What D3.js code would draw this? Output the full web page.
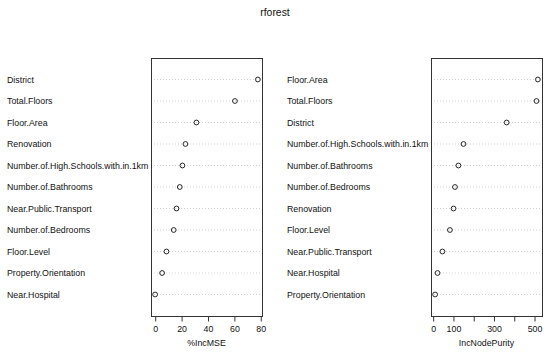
<!DOCTYPE html>
<html>
<head>
<meta charset="utf-8">
<script src="https://cdn.jsdelivr.net/npm/d3@7"></script>
<style>
  html, body { margin: 0; padding: 0; background: #fff; }
  text { font-family: "Liberation Sans", Arial, Helvetica, sans-serif; fill: #111; }
</style>
</head>
<body>
<div id="rootDiv"></div>
<script>
const width = 550
const height = 352

const title = "rforest"

const mseLabels = ["District", "Total.Floors", "Floor.Area", "Renovation",
    "Number.of.High.Schools.with.in.1km", "Number.of.Bathrooms", "Near.Public.Transport",
    "Number.of.Bedrooms", "Floor.Level", "Property.Orientation", "Near.Hospital"]
const mseValues = [78.2, 60.8, 31.6, 23.3, 21.0, 19.0, 16.5, 14.4, 8.9, 5.6, 0.3]
const mseTicks = [0, 20, 40, 60, 80]
const mseTickLabels = ["0", "20", "40", "60", "80"]

const purityLabels = ["Floor.Area", "Total.Floors", "District",
    "Number.of.High.Schools.with.in.1km", "Number.of.Bathrooms", "Number.of.Bedrooms",
    "Renovation", "Floor.Level", "Near.Public.Transport", "Near.Hospital", "Property.Orientation"]
const purityValues = [519, 512, 365, 152, 127, 110, 103, 85, 48, 24, 12]
const purityTicks = [0, 100, 200, 300, 400, 500]
const purityTickLabels = ["0", "100", "", "300", "", "500"]

const fontSize = 8.8
const boxTop = 58
const boxBottom = 316

const svg = d3.select("#rootDiv")
    .append("svg")
    .attr("width", width)
    .attr("height", height)

svg.append("text")
    .attr("x", 275)
    .attr("y", 16)
    .attr("text-anchor", "middle")
    .style("font-size", "10.4px")
    .text(title)

function drawPanel(labels, values, ticks, tickLabels, axisTitle, labelX, boxLeft, boxRight) {
    const g = svg.append("g")
    const n = values.length

    // R style: data range stretched by 4%
    const [lo, hi] = d3.extent(values)
    const pad = (hi - lo) * 0.04
    const x = d3.scaleLinear()
        .domain([lo - pad, hi + pad])
        .range([boxLeft, boxRight])

    // first row at the top, n+1 slots like dotchart
    const y = d3.scaleLinear()
        .domain([0, n + 1])
        .range([boxBottom, boxTop])

    const rows = g.selectAll(".row")
        .data(values)
        .enter()
        .append("g")
        .attr("class", "row")

    rows.append("line")
        .attr("x1", boxLeft)
        .attr("x2", boxRight)
        .attr("y1", (_d, i) => y(n - i))
        .attr("y2", (_d, i) => y(n - i))
        .attr("stroke", "#c8c8c8")
        .attr("stroke-width", 0.8)
        .attr("stroke-dasharray", "1,2")

    rows.append("circle")
        .attr("cx", d => x(d))
        .attr("cy", (_d, i) => y(n - i))
        .attr("r", 2.4)
        .attr("fill", "none")
        .attr("stroke", "#111")
        .attr("stroke-width", 0.9)

    g.selectAll(".lab")
        .data(labels)
        .enter()
        .append("text")
        .attr("class", "lab")
        .attr("x", labelX)
        .attr("y", (_d, i) => y(n - i))
        .attr("dy", "0.35em")
        .style("font-size", fontSize + "px")
        .text(d => d)

    g.append("rect")
        .attr("x", boxLeft + 0.5)
        .attr("y", boxTop + 0.5)
        .attr("width", boxRight - boxLeft)
        .attr("height", boxBottom - boxTop)
        .attr("fill", "none")
        .attr("stroke", "#333")
        .attr("stroke-width", 1)

    const axis = d3.axisBottom(x)
        .tickValues(ticks)
        .tickSize(5)
        .tickPadding(4)
        .tickFormat((_d, i) => tickLabels[i])

    const ax = g.append("g")
        .attr("transform", `translate(0.5, ${boxBottom + 0.5})`)
        .call(axis)
    ax.select(".domain")
        .attr("d", `M${x(ticks[0])},0H${x(ticks[ticks.length - 1])}`)
        .attr("stroke", "#333")
    ax.selectAll(".tick line").attr("stroke", "#333")
    ax.selectAll(".tick text")
        .style("font-size", fontSize + "px")
        .attr("fill", "#111")
        .attr("font-family", null)

    g.append("text")
        .attr("x", (boxLeft + boxRight) / 2)
        .attr("y", 346)
        .attr("text-anchor", "middle")
        .style("font-size", fontSize + "px")
        .text(axisTitle)
}

drawPanel(mseLabels, mseValues, mseTicks, mseTickLabels, "%IncMSE", 7, 151, 262)
drawPanel(purityLabels, purityValues, purityTicks, purityTickLabels, "IncNodePurity", 287, 431, 542)
</script>
</body>
</html>
